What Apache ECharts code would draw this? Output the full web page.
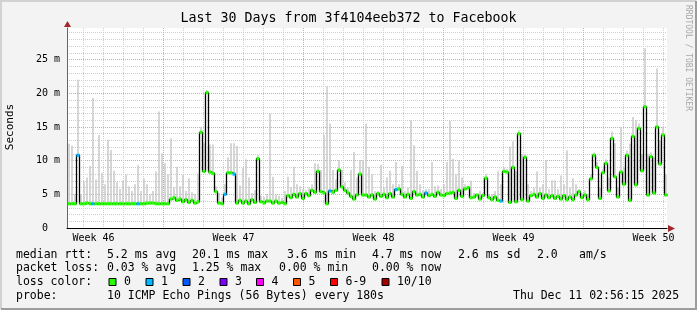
<!DOCTYPE html>
<html>
<head>
<meta charset="utf-8">
<script src="https://cdn.jsdelivr.net/npm/echarts@6/dist/echarts.min.js"></script>
<style>
html, body { margin: 0; padding: 0; background: #f3f3f3; }
#chart { width: 697px; height: 310px; }
</style>
</head>
<body>
<div id="chart"></div>
<script>
// median rtt (ms), one value per 3 px bin, 200 bins = 30 days
var median = [
  3.6,3.6,3.6,10.8,3.6,3.6,3.7,3.6,3.6,3.6,
  3.6,3.6,3.6,3.6,3.6,3.6,3.6,3.6,3.6,3.6,
  3.6,3.6,3.6,3.6,3.6,3.6,3.7,3.7,3.7,3.6,
  3.6,3.6,3.6,3.6,4.3,4.5,4.1,4.3,3.9,4.2,
  3.8,4.1,3.7,3.9,14.2,8.4,20.1,8.3,8.1,5.4,
  3.7,3.6,5.0,8.2,8.2,8.0,3.7,4.1,3.7,4.0,
  3.6,4.2,3.8,10.3,3.9,3.7,4.0,4.0,3.7,4.0,
  3.7,3.8,3.6,4.8,4.5,5.0,4.6,5.1,4.4,5.1,
  4.8,5.6,5.3,8.4,5.4,5.2,3.6,5.5,5.3,5.6,
  8.6,6.1,5.6,5.2,4.7,4.3,4.9,8.0,4.9,4.9,
  4.6,4.9,4.3,5.1,4.7,5.0,4.5,5.1,4.6,5.7,
  5.8,5.0,4.6,5.0,4.4,5.4,4.9,5.0,4.6,5.2,
  4.8,5.0,4.7,5.3,4.9,4.8,5.1,5.2,5.3,4.4,
  5.6,4.7,5.8,6.0,4.5,4.6,4.9,4.3,4.8,7.4,
  4.5,4.2,4.6,4.1,4.0,8.4,8.3,3.8,9.0,3.9,
  14.0,4.2,10.5,4.0,4.8,5.0,4.6,5.1,4.4,4.9,
  4.5,4.8,4.4,4.7,4.3,4.8,4.2,4.6,4.2,4.9,
  5.4,4.5,4.9,4.2,7.3,10.8,9.0,4.4,8.2,9.6,
  5.5,13.3,7.6,4.6,8.3,6.5,10.8,4.1,13.6,6.4,
  14.8,8.5,18.0,4.9,10.6,5.2,15.0,9.5,13.8,4.9
];
// top of the smoke (slowest ping) per bin, ms
var smoke = [
  12.5,12.2,5.0,22.0,5.0,6.9,7.5,9.2,19.3,7.2,
  13.8,8.2,6.5,13.1,11.6,8.5,6.8,5.8,7.0,7.9,
  6.2,5.5,6.5,9.3,5.5,7.3,6.5,5.0,5.5,8.4,
  17.3,11.1,9.6,8.0,13.3,6.0,9.1,6.2,7.9,5.5,
  7.4,5.3,5.0,8.1,15.0,12.6,20.5,12.4,12.4,6.2,
  5.2,4.5,6.5,10.5,12.6,12.6,12.2,6.3,8.9,10.2,
  7.5,5.2,5.6,10.8,4.8,4.6,5.0,17.0,7.6,5.0,
  4.8,4.5,5.5,7.6,6.0,9.1,6.5,6.2,5.8,5.6,
  6.0,6.5,9.6,9.5,8.6,13.8,21.0,15.5,8.6,7.2,
  10.1,8.6,6.8,6.0,8.6,11.3,7.5,10.1,10.1,15.5,
  9.1,8.0,5.5,5.5,9.4,6.0,7.5,8.5,6.5,9.8,
  6.5,9.2,5.5,6.0,16.0,12.3,8.5,6.5,5.6,5.8,
  5.8,9.8,6.2,6.3,5.8,6.5,9.8,15.9,10.3,8.0,
  10.0,7.5,6.5,6.0,7.0,5.2,5.0,5.5,5.2,8.0,
  5.0,5.0,5.5,8.4,6.5,9.0,8.8,12.1,12.9,8.5,
  14.5,11.0,11.0,6.5,5.5,6.0,8.4,6.0,6.5,10.1,
  5.8,7.1,7.1,5.8,7.8,6.5,11.5,6.0,7.4,6.5,
  5.8,5.2,5.6,5.0,8.0,11.2,9.8,6.0,8.8,10.2,
  7.5,14.3,12.6,6.0,15.0,9.0,11.5,12.5,16.5,16.0,
  15.5,11.0,26.7,11.0,11.2,10.5,23.7,13.0,15.0,8.0
];
// bins with lost pings, and how many of 10 were lost
var lossBins  = [3, 8, 23, 52, 55, 87, 109, 119, 144];
var lossPings = [1, 1, 1, 1, 1, 1, 1, 1, 1];

var weekLabels = ['Week 46', 'Week 47', 'Week 48', 'Week 49', 'Week 50'];
var lossNames  = ['0', '1', '2', '3', '4', '5', '6-9', '10/10'];
var lossColors = ['#26ff00', '#00b8ff', '#0059ff', '#7e00ff', '#ff00ff', '#ff5500', '#ff0000', '#a10000'];

var titleText = 'Last 30 Days from 3f4104eeb372 to Facebook';
var statsRtt  = ['median rtt:', '5.2 ms avg', '20.1 ms max', '3.6 ms min', '4.7 ms now', '2.6 ms sd', '2.0', 'am/s'];
var statsLoss = ['packet loss:', '0.03 % avg', '1.25 % max', '0.00 % min', '0.00 % now'];
var probeText = ['probe:', '10 ICMP Echo Pings (56 Bytes) every 180s', 'Thu Dec 11 02:56:15 2025'];

var mono = 'DejaVu Sans Mono';
var n = median.length;

// time slots of 36 min (40 per day) for the grid axes: slot 0 = left edge
var perDay = 40, firstMidnight = 33, firstMonday = 193, firstLabel = 53;
var slots = [];
for (var j = 0; j <= 30 * perDay; j++) slots.push(j);

var lossOf = median.map(function () { return 0; });
lossBins.forEach(function (b, k) { lossOf[b] = lossPings[k]; });
function lossColor(p) {
  if (p >= 10) return lossColors[7];
  if (p >= 6) return lossColors[6];
  return lossColors[p];
}

var lineData = median.map(function (v, i) { return [i, v]; });
lineData.push([n, median[n - 1]]);
var smokeData = smoke.map(function (v, i) { return [i + 0.5, median[i], Math.max(v, median[i])]; });
var markData = median.map(function (v, i) {
  return { value: [i + 0.5, v], itemStyle: { color: lossColor(lossOf[i]) } };
});

function txt(x, y, s, size) {
  return {
    type: 'text', x: x, y: y, silent: true,
    style: { text: s, fill: '#000', fontFamily: mono, fontSize: size || 11.5, align: 'left', verticalAlign: 'middle' }
  };
}
var g = [];
g.push({ type: 'polyline', silent: true, shape: { points: [[1, 309], [1, 1], [696, 1]] }, style: { stroke: '#d2d2d2', lineWidth: 2, fill: null } });
g.push({ type: 'polyline', silent: true, shape: { points: [[1, 309], [696, 309], [696, 1]] }, style: { stroke: '#9c9c9c', lineWidth: 2, fill: null } });
g.push({ type: 'text', x: 348.5, y: 19, silent: true,
  style: { text: titleText, fill: '#000', fontFamily: mono, fontSize: 13.3, align: 'center', verticalAlign: 'middle' } });
g.push({ type: 'text', x: 10.5, y: 127, rotation: Math.PI / 2, silent: true,
  style: { text: 'Seconds', fill: '#000', fontFamily: mono, fontSize: 11, align: 'center', verticalAlign: 'middle' } });
g.push({ type: 'text', x: 688.5, y: 5, rotation: -Math.PI / 2, silent: true,
  style: { text: 'RRDTOOL / TOBI OETIKER', fill: '#a8a8a8', fontFamily: mono, fontSize: 8, align: 'left', verticalAlign: 'middle' } });
g.push({ type: 'polygon', silent: true, shape: { points: [[64, 27], [67.5, 21], [71, 27]] }, style: { fill: '#a02828' } });
g.push({ type: 'polygon', silent: true, shape: { points: [[668, 225], [675, 228.5], [668, 232]] }, style: { fill: '#a02828' } });

var rttX = [16, 107, 192, 287, 372, 458, 537, 579];
statsRtt.forEach(function (s, k) { g.push(txt(rttX[k], 255, s)); });
var lossX = [16, 107, 192, 279, 372];
statsLoss.forEach(function (s, k) { g.push(txt(lossX[k], 268.5, s)); });
g.push(txt(16, 282, 'loss color:'));
var sqX = [108.5, 145.5, 182.5, 219.5, 256, 293, 330, 381.5];
lossNames.forEach(function (s, k) {
  g.push({ type: 'rect', silent: true, shape: { x: sqX[k] + 0.5, y: 278.5, width: 7, height: 7 },
    style: { fill: lossColors[k], stroke: '#000', lineWidth: 1 } });
  g.push(txt(sqX[k] + 15.5, 282, s));
});
var probeX = [16, 107, 513];
probeText.forEach(function (s, k) { g.push(txt(probeX[k], 296, s)); });

var dotted = function (c) { return { color: c, width: 1, type: [1, 1] }; };
var off = { show: false };

var chart = echarts.init(document.getElementById('chart'));
chart.setOption({
  backgroundColor: '#f3f3f3',
  animation: false,
  grid: { left: 67, right: 30, top: 28, bottom: 82, show: true, backgroundColor: '#ffffff', borderWidth: 0,
          containLabel: false, outerBoundsMode: 'none' },
  xAxis: [
    { type: 'value', position: 'top', min: -1 / 6, max: n - 1 / 6, show: false },
    { type: 'category', position: 'top', data: slots, boundaryGap: false,
      axisLine: off, axisTick: off, axisLabel: off,
      splitLine: { show: true, interval: function (i) { return (i - firstMidnight) % perDay === 0; },
                   lineStyle: dotted('#cdcdcd') } },
    { type: 'category', position: 'top', data: slots, boundaryGap: false,
      axisLine: off, axisTick: off, axisLabel: off,
      splitLine: { show: true, interval: function (i) { return i >= firstMonday && (i - firstMonday) % (7 * perDay) === 0; },
                   lineStyle: dotted('#e6a0a0') } },
    { type: 'category', position: 'bottom', data: slots, boundaryGap: false,
      axisLine: { show: true, onZero: false, lineStyle: { color: '#000', width: 1 } },
      axisTick: off, splitLine: off,
      axisLabel: {
        show: true, fontFamily: mono, fontSize: 10, color: '#000', margin: 5, hideOverlap: false,
        interval: function (i) { return i >= firstLabel && (i - firstLabel) % (7 * perDay) === 0; },
        formatter: function (v, i) { return weekLabels[Math.round((i - firstLabel) / (7 * perDay))] || ''; }
      } }
  ],
  yAxis: [
    { type: 'value', position: 'left', min: 0, max: 29.7, interval: 1,
      axisLine: { show: false, onZero: false }, axisTick: off, axisLabel: off,
      splitLine: { show: true, showMinLine: false, showMaxLine: false, lineStyle: dotted('#cdcdcd') } },
    { type: 'value', position: 'left', min: 0, max: 29.7, interval: 5,
      axisLine: { show: true, onZero: false, lineStyle: { color: '#666', width: 1 } },
      axisTick: off,
      splitLine: { show: true, showMinLine: false, showMaxLine: false, lineStyle: dotted('#e6a0a0') },
      axisLabel: {
        show: true, showMaxLabel: false, fontFamily: mono, fontSize: 10, color: '#000', margin: 7,
        formatter: function (v) {
          if (v % 5 !== 0) return '';
          return v === 0 ? '0  ' : v + ' m';
        }
      } }
  ],
  series: [
    { type: 'custom', xAxisIndex: 0, yAxisIndex: 1, data: smokeData, z: 2, silent: true,
      encode: { x: 0, y: [1, 2] },
      renderItem: function (params, api) {
        var lo = api.coord([api.value(0), api.value(1)]);
        var hi = api.coord([api.value(0), api.value(2)]);
        return { type: 'rect', shape: { x: lo[0] - 0.75, y: hi[1], width: 1.5, height: lo[1] - hi[1] },
                 style: { fill: '#c8c8c8' } };
      } },
    { type: 'line', xAxisIndex: 0, yAxisIndex: 1, data: lineData, step: 'end', symbol: 'none', z: 3,
      lineStyle: { color: '#000', width: 1.3 }, silent: true },
    { type: 'scatter', xAxisIndex: 0, yAxisIndex: 1, data: markData, symbol: 'rect', symbolSize: [3, 3.2], z: 5,
      itemStyle: { opacity: 1, borderWidth: 0 }, silent: true }
  ],
  graphic: g
});
</script>
</body>
</html>
